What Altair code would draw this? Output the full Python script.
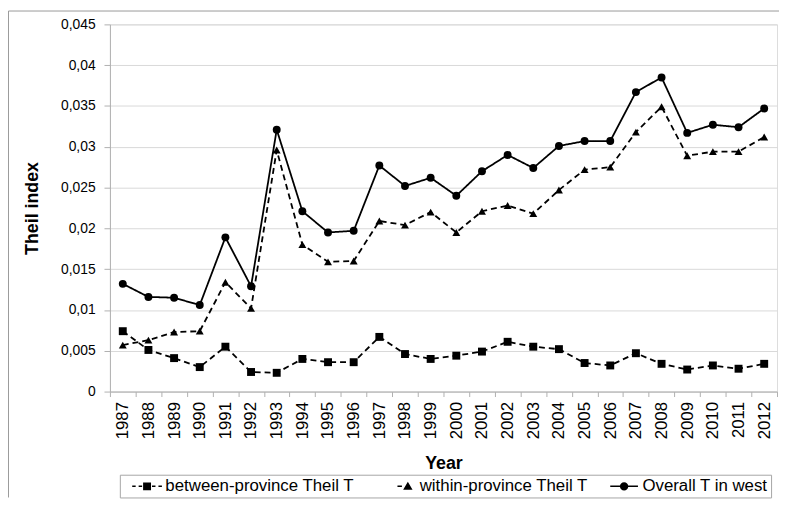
import altair as alt
import pandas as pd

years = list(range(1987, 2013))
series_names = ["between-province Theil T", "within-province Theil T", "Overall T in west"]

between = [0.0074, 0.0051, 0.0041, 0.0030, 0.0055, 0.0024, 0.0023, 0.0040, 0.0036, 0.0036,
           0.0067, 0.0046, 0.0040, 0.0044, 0.0049, 0.0061, 0.0055, 0.0052, 0.0035, 0.0032,
           0.0047, 0.0034, 0.0027, 0.0032, 0.0028, 0.0034]
within = [0.0057, 0.0063, 0.0073, 0.0074, 0.0134, 0.0102, 0.0296, 0.0180, 0.0159, 0.0160,
          0.0209, 0.0204, 0.0220, 0.0195, 0.0221, 0.0228, 0.0218, 0.0247, 0.0272, 0.0275,
          0.0318, 0.0349, 0.0289, 0.0294, 0.0294, 0.0312]
overall = [0.0132, 0.0116, 0.0115, 0.0106, 0.0189, 0.0129, 0.0321, 0.0221, 0.0195, 0.0197,
           0.0277, 0.0252, 0.0262, 0.0240, 0.0270, 0.0290, 0.0274, 0.0301, 0.0307, 0.0307,
           0.0367, 0.0385, 0.0317, 0.0327, 0.0324, 0.0347]

y_ticks = [0, 0.005, 0.01, 0.015, 0.02, 0.025, 0.03, 0.035, 0.04, 0.045]

rows = []
for name, vals in zip(series_names, [between, within, overall]):
    for yr, v in zip(years, vals):
        rows.append({"year": str(yr), "value": v, "series": name})
df = pd.DataFrame(rows)

FONT = "Liberation Sans, Arial, Helvetica, sans-serif"
GRID = "#d9d9d9"
AXC = "#b0b0b0"

x_enc = alt.X(
    "year:O",
    bandPosition=0.5,
    scale=alt.Scale(type="band", paddingInner=0, paddingOuter=0),
    axis=alt.Axis(
        title="Year", labelAngle=270, tickBand="extent", labelFontSize=17,
        labelColor="black", labelPadding=5, tickSize=5, tickColor=AXC, domainColor=AXC,
        titleFontSize=18, titleFontWeight="bold", titlePadding=16, grid=False,
        labelFont=FONT, titleFont=FONT,
    ),
)
y_enc = alt.Y(
    "value:Q",
    scale=alt.Scale(domain=[0, 0.045], nice=False),
    axis=alt.Axis(
        title="Theil index", values=y_ticks,
        labelExpr="replace(format(datum.value, '.3~f'), '.', ',')",
        labelFontSize=14, labelColor="black", labelPadding=9, tickSize=6,
        tickColor=AXC, domainColor=AXC, gridColor=GRID, grid=True,
        titleFontSize=18, titleFontWeight="bold", titlePadding=19,
        labelFont=FONT, titleFont=FONT,
    ),
)

dash_scale = alt.Scale(domain=series_names, range=[[6, 4], [6, 4], [1, 0]])

lines = alt.Chart(df).mark_line(color="black", strokeWidth=1.8).encode(
    x=x_enc, y=y_enc,
    strokeDash=alt.StrokeDash("series:N", scale=dash_scale, legend=None),
)

points = alt.Chart(df).mark_point(filled=True, color="black", opacity=1, size=64).encode(
    x=x_enc, y=y_enc,
    shape=alt.Shape("series:N",
                    scale=alt.Scale(domain=series_names, range=["square", "triangle-up", "circle"]),
                    legend=None),
)

# legend glyphs: line pieces drawn as thin filled bars plus the marker
legend_paths = [
    "M-3,-0.15H-2.3V0.15H-3Z M-1.7,-0.15H-1.0V0.15H-1.7Z M-0.8,-0.8H0.8V0.8H-0.8Z "
    "M1.0,-0.15H1.7V0.15H1.0Z M2.3,-0.15H3V0.15H2.3Z",
    "M-5.2,0Z M-0.8,-0.15H0.1V0.15H-0.8Z M1.3,-0.95L2.25,0.7H0.35Z",
    "M-2.8,-0.15H2.8V0.15H-2.8Z M0.85,0A0.85,0.85,0,1,1,-0.85,0A0.85,0.85,0,1,1,0.85,0Z",
]

NB = "\u00a0"
legend_layer = alt.Chart(df).transform_filter("false").mark_point(
    filled=True, color="black", opacity=1
).encode(
    x=x_enc, y=y_enc,
    shape=alt.Shape(
        "series:N",
        scale=alt.Scale(domain=series_names, range=legend_paths),
        legend=alt.Legend(
            title=" ", titleOrient="left", titleFontSize=1, titlePadding=16,
            orient="none", legendX=10, legendY=455, direction="horizontal",
            columns=3, symbolSize=100, symbolFillColor="black",
            labelFontSize=17, labelFont=FONT, labelColor="black",
            labelExpr=f"datum.label == 'Overall T in west' ? datum.label + '{NB}{NB}' : datum.label",
            labelOffset=10, labelLimit=0, columnPadding=18, padding=3,
            strokeColor="#a6a6a6", fillColor="white",
        ),
    ),
)

one = pd.DataFrame({"f": [0]})
frame_left = alt.Chart(one).mark_rule(color="#9a9a9a", strokeWidth=1).encode(
    x=alt.value(-102.5), y=alt.value(-13.5), y2=alt.value(478)
)
frame_top = alt.Chart(one).mark_rule(color="#9a9a9a", strokeWidth=1).encode(
    x=alt.value(-102.5), x2=alt.value(676), y=alt.value(-13.5)
)

chart = alt.layer(frame_left, frame_top, lines, points, legend_layer).resolve_scale(
    shape="independent"
).properties(
    width=674, height=371,
    padding={"left": 103, "top": 14, "right": 2, "bottom": 107},
    autosize=alt.AutoSizeParams(type="none"),
).configure_view(stroke=None).configure(background="white")

chart.save("out.html", embed_options={"renderer": "svg", "actions": False})
